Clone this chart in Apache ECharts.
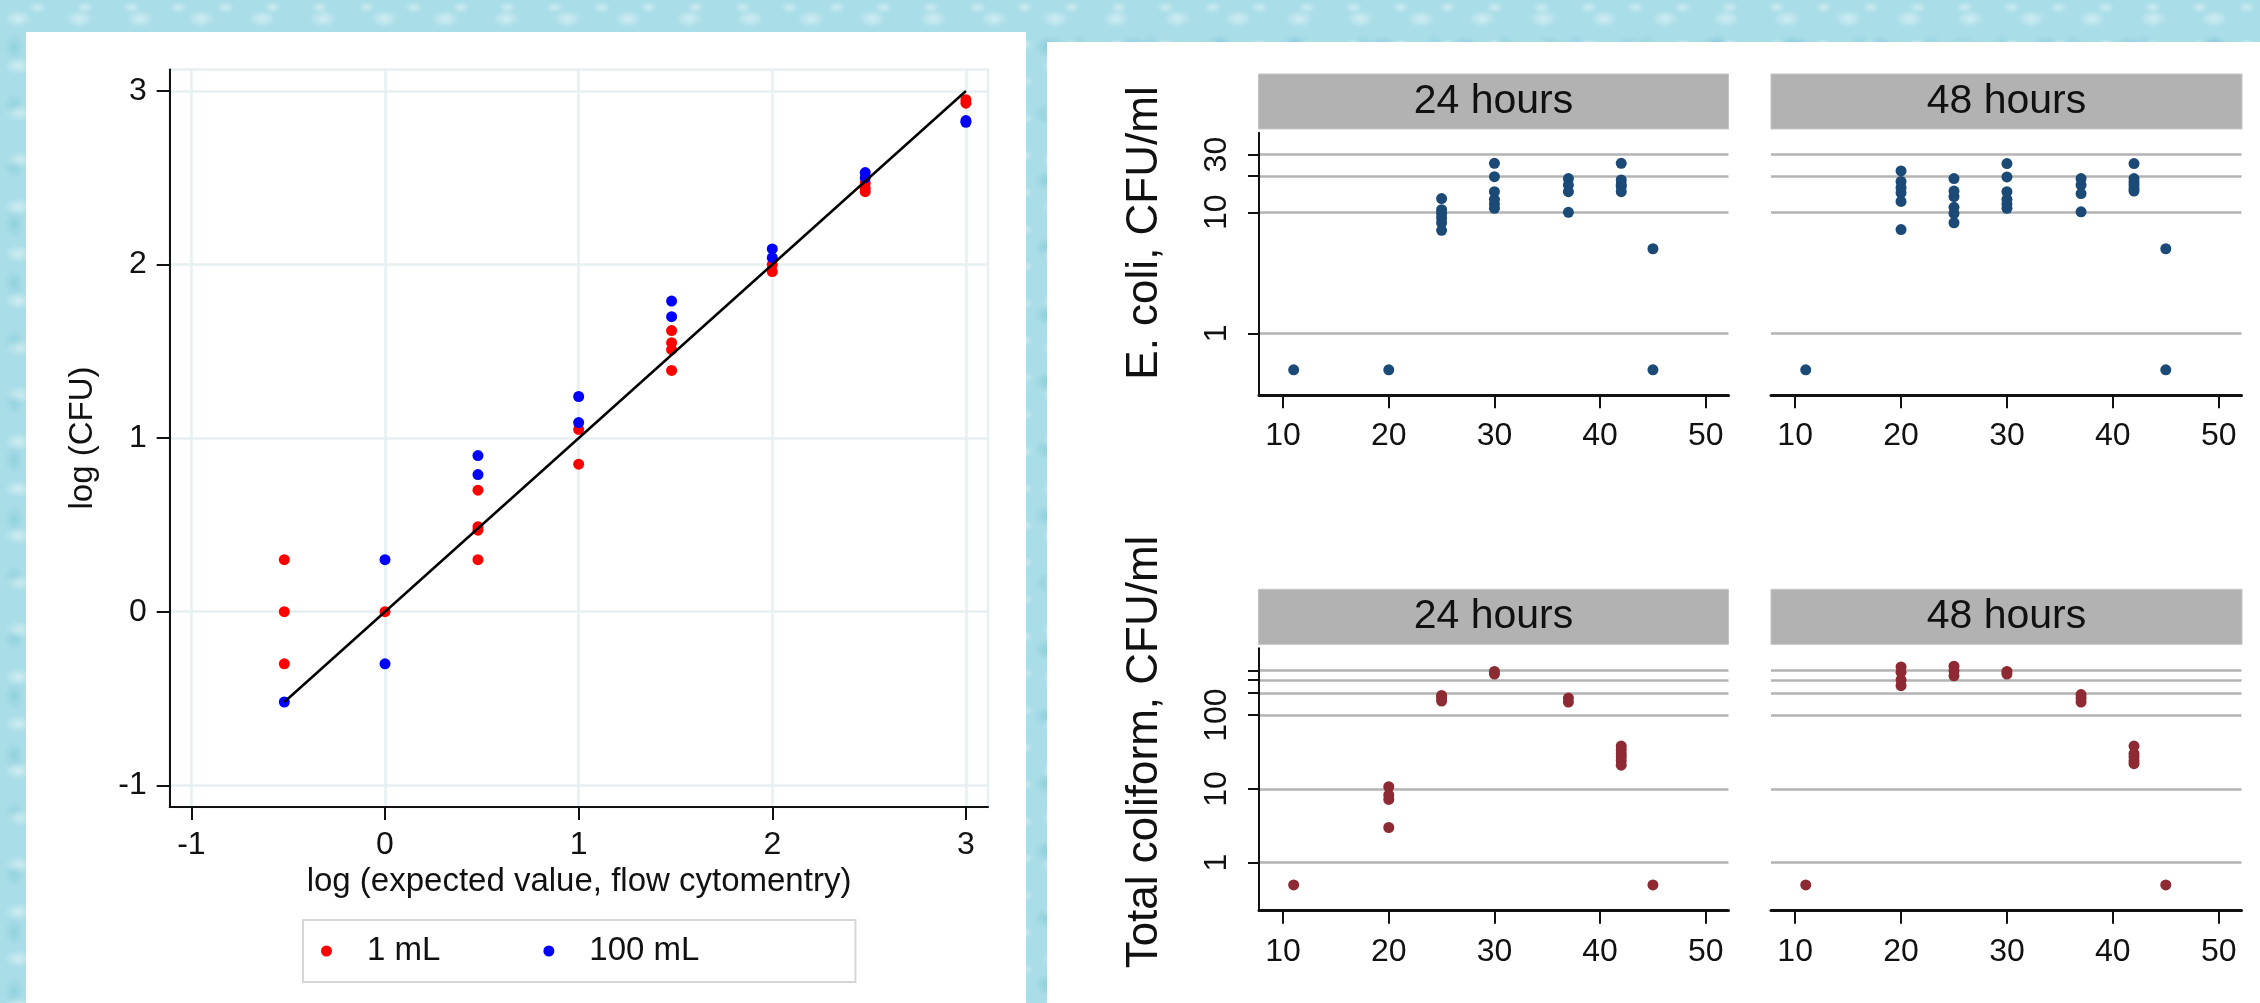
<!DOCTYPE html>
<html><head><meta charset="utf-8">
<script src="https://cdn.jsdelivr.net/npm/echarts@6/dist/echarts.min.js"></script>
<style>
html,body{margin:0;padding:0;width:2260px;height:1003px;overflow:hidden;}
body{
  background-color:#a9dde8;
  background-image:
    radial-gradient(ellipse 14px 9px at 30% 40%, rgba(255,255,255,0.45) 0, rgba(255,255,255,0) 100%),
    radial-gradient(ellipse 16px 11px at 65% 70%, rgba(70,160,180,0.30) 0, rgba(70,160,180,0) 100%),
    radial-gradient(ellipse 10px 14px at 20% 80%, rgba(120,195,210,0.45) 0, rgba(120,195,210,0) 100%),
    radial-gradient(ellipse 9px 6px at 80% 20%, rgba(255,255,255,0.40) 0, rgba(255,255,255,0) 100%);
  background-size:61px 47px, 83px 67px, 71px 59px, 47px 37px;
}
.panel{position:absolute;background:#fff;}
#chart{position:absolute;left:0;top:0;width:2260px;height:1003px;}
</style></head><body>
<div class="panel" style="left:26px;top:32px;width:1000px;height:971px"></div>
<div class="panel" style="left:1047px;top:42px;width:1213px;height:961px"></div>
<div id="chart"></div>
<script>
// ---------- Left chart data (log10 units) ----------
const xLogExpected = [-0.52, 0, 0.48, 1, 1.48, 2, 2.48, 3];
const logCFU_1mL = [[0.30, 0.00, -0.30], [0.00], [0.70, 0.49, 0.47, 0.30], [1.05, 0.85],
                    [1.62, 1.55, 1.51, 1.39], [2.00, 1.96], [2.47, 2.44, 2.42], [2.95, 2.93]];
const logCFU_100mL = [[-0.52], [0.30, -0.30], [0.90, 0.79], [1.24, 1.09],
                      [1.79, 1.70], [2.09, 2.04], [2.53, 2.50], [2.83, 2.82]];
const fitLineX = [-0.52, 3];           // identity line y = x
const leftTicks = [-1, 0, 1, 2, 3];
const seriesNames = ['1 mL', '100 mL'];

// ---------- Right facets data (CFU/ml) ----------
const temps = [11, 20, 25, 30, 37, 42, 45];
const ecoli24 = [[0.5], [0.5], [13, 10.5, 9.8, 9, 8.2, 7.1], [25.4, 19.7, 14.8, 12.8, 11.7, 10.8],
                 [19, 16.8, 14.8, 10], [25.4, 18.5, 17, 16.3, 14.8], [5, 0.5]];
const ecoli48 = [[0.5], [22, 18, 16, 14.5, 12.3, 7.2], [19, 15, 13.5, 11, 9.8, 8.2],
                 [25.3, 19.6, 14.8, 12.8, 11.7, 10.8], [19, 16.8, 14.3, 10.1],
                 [25.3, 19, 17.8, 16.8, 15.7, 15], [5, 0.5]];
const coli24 = [[0.5], [10.7, 8.3, 7.2, 3], [185, 170, 155], [390, 360], [170, 150],
                [38, 34, 30, 27, 24, 21], [0.5]];
const coli48 = [[0.5], [450, 380, 300, 250], [460, 400, 340], [390, 360], [190, 170, 150],
                [38, 30, 27, 24, 22], [0.5]];
const tempTicks = [10, 20, 30, 40, 50];
const ecoliTicks = [1, 10, 20, 30];
const ecoliLabels = [1, 10, 30];
const coliTicks = [1, 10, 100, 200, 300, 400];
const coliLabels = [1, 10, 100];
const facetTitles = ['24 hours', '48 hours'];
const rowTitles = ['E. coli, CFU/ml', 'Total coliform, CFU/ml'];

// ---------- build ----------
const FF = "'Liberation Sans', Arial, sans-serif";
const lg = v => Math.log10(v);
function pairs(xs, groups) { const out = []; groups.forEach((g, i) => g.forEach(v => out.push([xs[i], v]))); return out; }
function logPairs(xs, groups) { const out = []; groups.forEach((g, i) => g.forEach(v => out.push([xs[i], lg(v)]))); return out; }
const fmtLog = v => String(Math.round(Math.pow(10, v)));

const grids = [
  {left: 169.7, top: 69.5, width: 818.3, height: 737.5, show: true, borderColor: '#e6eff1', borderWidth: 2.5},
  {left: 1259, top: 132.7, width: 469.5, height: 262.6},
  {left: 1771, top: 132.7, width: 470.5, height: 262.6},
  {left: 1259, top: 648.3, width: 469.5, height: 262.4},
  {left: 1771, top: 648.3, width: 470.5, height: 262.4}
];

const leftX = {
  gridIndex: 0, type: 'value', min: -1.112, max: 3.114,
  axisLine: {show: true, onZero: false, lineStyle: {color: '#111', width: 2}},
  axisTick: {show: true, length: 13, customValues: leftTicks, lineStyle: {color: '#111', width: 2}},
  axisLabel: {customValues: leftTicks, fontSize: 32, fontFamily: FF, color: '#111', margin: 22},
  splitLine: {show: true, lineStyle: {color: '#e6eff1', width: 2.5}}
};
const leftY = {
  gridIndex: 0, type: 'value', min: -1.125, max: 3.124,
  axisLine: {show: true, onZero: false, lineStyle: {color: '#111', width: 2}},
  axisTick: {show: true, length: 13, customValues: leftTicks, lineStyle: {color: '#111', width: 2}},
  axisLabel: {customValues: leftTicks, fontSize: 32, fontFamily: FF, color: '#111', margin: 23},
  splitLine: {show: true, lineStyle: {color: '#e6eff1', width: 2.5}}
};

function rightX(gi) {
  return {
    gridIndex: gi, type: 'value', min: 7.72, max: 52.15,
    axisLine: {show: true, onZero: false, lineStyle: {color: '#111', width: 3}},
    axisTick: {show: true, length: 13, customValues: tempTicks, lineStyle: {color: '#111', width: 2}},
    axisLabel: {customValues: tempTicks, fontSize: 32, fontFamily: FF, color: '#111', margin: 25},
    splitLine: {show: false}
  };
}
function rightY(gi, min, max, ticks, labels, showAxis) {
  return {
    gridIndex: gi, type: 'value', min: min, max: max,
    axisLine: {show: showAxis, onZero: false, lineStyle: {color: '#111', width: 2}},
    axisTick: {show: showAxis, length: 11, customValues: ticks.map(lg), lineStyle: {color: '#111', width: 2}},
    axisLabel: {show: showAxis, customValues: labels.map(lg), rotate: 90, formatter: fmtLog,
                fontSize: 32, fontFamily: FF, color: '#111', margin: 26},
    splitLine: {show: true, lineStyle: {color: '#b3b3b3', width: 2.5}}
  };
}

const ecoliRange = [-0.512, 1.658];
const coliRange = [-0.65, 2.905];

const xAxes = [leftX, rightX(1), rightX(2), rightX(3), rightX(4)];
const yAxes = [leftY,
  rightY(1, ecoliRange[0], ecoliRange[1], ecoliTicks, ecoliLabels, true),
  rightY(2, ecoliRange[0], ecoliRange[1], ecoliTicks, ecoliLabels, false),
  rightY(3, coliRange[0], coliRange[1], coliTicks, coliLabels, true),
  rightY(4, coliRange[0], coliRange[1], coliTicks, coliLabels, false)];

const ecoliColor = '#1b4a76';
const coliColor = '#8e2a33';
function facetSeries(gi, data, color) {
  return {type: 'scatter', xAxisIndex: gi, yAxisIndex: gi, data: logPairs(temps, data),
          symbol: 'circle', symbolSize: 11, itemStyle: {color: color, opacity: 1}, z: 3};
}

const series = [
  {name: seriesNames[0], type: 'scatter', xAxisIndex: 0, yAxisIndex: 0, data: pairs(xLogExpected, logCFU_1mL),
   symbol: 'circle', symbolSize: 11, itemStyle: {color: '#ff0000', opacity: 1}, z: 3},
  {name: seriesNames[1], type: 'scatter', xAxisIndex: 0, yAxisIndex: 0, data: pairs(xLogExpected, logCFU_100mL),
   symbol: 'circle', symbolSize: 11, itemStyle: {color: '#0000ff', opacity: 1}, z: 4},
  {type: 'line', xAxisIndex: 0, yAxisIndex: 0, data: fitLineX.map(v => [v, v]), showSymbol: false,
   lineStyle: {color: '#000', width: 2.5}, z: 5, silent: true},
  facetSeries(1, ecoli24, ecoliColor),
  facetSeries(2, ecoli48, ecoliColor),
  facetSeries(3, coli24, coliColor),
  facetSeries(4, coli48, coliColor)
];

function txt(x, y, text, size, rot) {
  return {type: 'text', x: x, y: y, rotation: rot || 0, z: 100,
          style: {text: text, font: size + 'px ' + FF, fill: '#111', align: 'center', verticalAlign: 'middle',
                  textAlign: 'center', textVerticalAlign: 'middle'}};
}
function strip(x, y, w, h, label) {
  return [{type: 'rect', shape: {x: x, y: y, width: w, height: h}, style: {fill: '#b2b2b2', stroke: '#c4c4c4', lineWidth: 1}, z: 90},
          txt(x + w / 2, y + h / 2, label, 41)];
}

const graphic = [].concat(
  strip(1258.5, 74, 470, 55, facetTitles[0]),
  strip(1771, 74, 471, 55, facetTitles[1]),
  strip(1258.5, 589.3, 470, 55, facetTitles[0]),
  strip(1771, 589.3, 471, 55, facetTitles[1]),
  [txt(1145, 233, rowTitles[0], 44, Math.PI / 2),
   txt(1145, 752, rowTitles[1], 44, Math.PI / 2),
   txt(83, 438, 'log (CFU)', 33, Math.PI / 2),
   txt(579, 882, 'log (expected value, flow cytomentry)', 33, 0)]
);

const chart = echarts.init(document.getElementById('chart'), null, {renderer: 'canvas'});
chart.setOption({
  animation: false,
  backgroundColor: 'transparent',
  grid: grids,
  xAxis: xAxes,
  yAxis: yAxes,
  series: series,
  legend: {
    data: seriesNames, left: 303, top: 920, orient: 'horizontal',
    icon: 'circle', itemWidth: 11, itemHeight: 11, itemGap: 103,
    padding: [13, 156, 13, 18],
    backgroundColor: '#fff', borderColor: '#d6d6d6', borderWidth: 2,
    formatter: name => '{gap| }' + name,
    textStyle: {fontSize: 33, fontFamily: FF, color: '#111', lineHeight: 36,
                rich: {gap: {width: 30, fontSize: 33, fontFamily: FF}}},
    selectedMode: false
  },
  graphic: graphic
});
</script></body></html>
